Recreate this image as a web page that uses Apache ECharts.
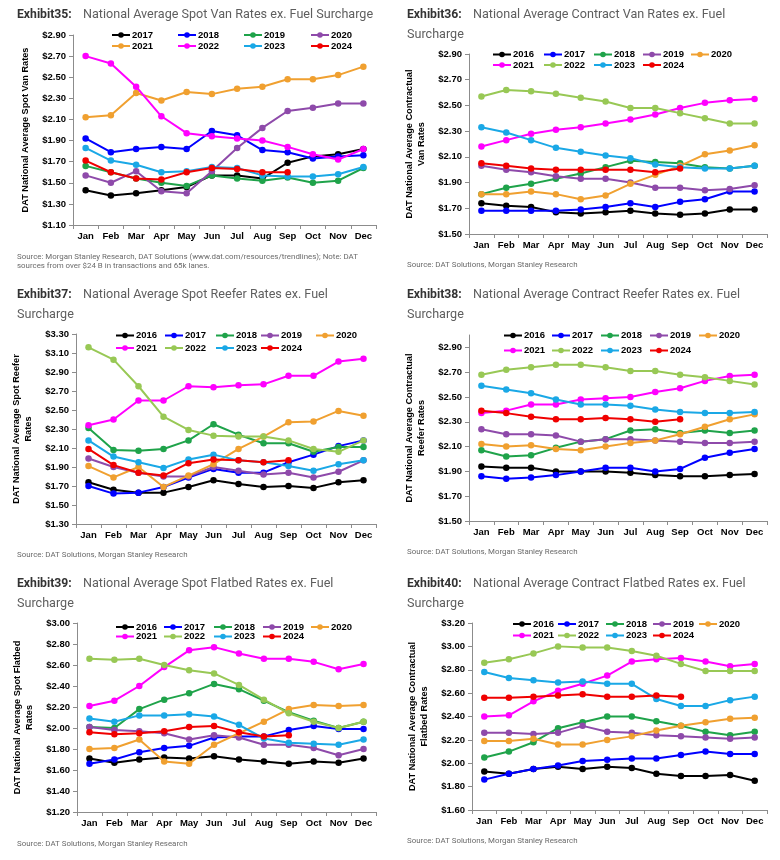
<!DOCTYPE html>
<html><head><meta charset="utf-8">
<script src="https://cdn.jsdelivr.net/npm/echarts@6/dist/echarts.min.js"></script>
<style>
body{margin:0;background:#fff;width:780px;height:860px;position:relative;overflow:hidden}
.p{position:absolute;width:390px;height:285px}
</style></head><body>
<div id="c1" class="p" style="left:0;top:0"></div>
<div id="c2" class="p" style="left:390px;top:0"></div>
<div id="c3" class="p" style="left:0;top:285px"></div>
<div id="c4" class="p" style="left:390px;top:285px"></div>
<div id="c5" class="p" style="left:0;top:575px"></div>
<div id="c6" class="p" style="left:390px;top:575px"></div>
<script>
const months = ['Jan','Feb','Mar','Apr','May','Jun','Jul','Aug','Sep','Oct','Nov','Dec'];
const yearsA = ['2017','2018','2019','2020','2021','2022','2023','2024'];
const yearsB = ['2016','2017','2018','2019','2020','2021','2022','2023','2024'];

// Exhibit 35: Spot Van
const sv2017 = [1.43,1.38,1.40,1.43,1.46,1.57,1.57,1.54,1.69,1.75,1.77,1.82];
const sv2018 = [1.92,1.79,1.82,1.84,1.82,1.99,1.95,1.81,1.79,1.73,1.75,1.76];
const sv2019 = [1.66,1.60,1.54,1.50,1.47,1.57,1.54,1.52,1.55,1.50,1.52,1.64];
const sv2020 = [1.57,1.50,1.61,1.42,1.40,1.61,1.83,2.02,2.18,2.21,2.25,2.25];
const sv2021 = [2.12,2.14,2.35,2.28,2.36,2.34,2.39,2.41,2.48,2.48,2.52,2.60];
const sv2022 = [2.70,2.63,2.41,2.13,1.97,1.94,1.92,1.90,1.84,1.77,1.72,1.82];
const sv2023 = [1.83,1.71,1.67,1.60,1.61,1.65,1.64,1.57,1.56,1.56,1.58,1.65];
const sv2024 = [1.71,1.60,1.54,1.53,1.60,1.64,1.63,1.60,1.60];

// Exhibit 36: Contract Van
const cv2016 = [1.74,1.72,1.71,1.67,1.66,1.67,1.68,1.66,1.65,1.66,1.69,1.69];
const cv2017 = [1.68,1.68,1.68,1.68,1.69,1.71,1.74,1.71,1.75,1.77,1.83,1.83];
const cv2018 = [1.81,1.86,1.89,1.93,1.97,2.02,2.07,2.06,2.05,2.02,2.01,2.03];
const cv2019 = [2.03,2.00,1.98,1.95,1.93,1.93,1.90,1.86,1.86,1.84,1.85,1.88];
const cv2020 = [1.81,1.81,1.83,1.81,1.77,1.80,1.89,1.96,2.03,2.12,2.15,2.19];
const cv2021 = [2.18,2.23,2.28,2.31,2.33,2.36,2.39,2.43,2.48,2.52,2.54,2.55];
const cv2022 = [2.57,2.62,2.61,2.59,2.56,2.53,2.48,2.48,2.44,2.40,2.36,2.36];
const cv2023 = [2.33,2.29,2.23,2.17,2.14,2.11,2.09,2.04,2.02,2.01,2.01,2.03];
const cv2024 = [2.05,2.03,2.01,2.00,2.00,2.00,2.00,1.98,2.01];

// Exhibit 37: Spot Reefer
const sr2016 = [1.74,1.66,1.63,1.63,1.69,1.76,1.72,1.69,1.70,1.68,1.74,1.76];
const sr2017 = [1.70,1.62,1.63,1.69,1.79,1.88,1.84,1.84,1.95,2.03,2.12,2.18];
const sr2018 = [2.31,2.08,2.07,2.09,2.18,2.35,2.24,2.15,2.15,2.06,2.11,2.11];
const sr2019 = [1.99,1.90,1.84,1.80,1.80,1.90,1.86,1.82,1.84,1.79,1.85,1.97];
const sr2020 = [1.91,1.79,1.90,1.69,1.81,1.93,2.09,2.22,2.37,2.38,2.49,2.44];
const sr2021 = [2.34,2.40,2.60,2.60,2.75,2.74,2.76,2.77,2.86,2.86,3.01,3.04];
const sr2022 = [3.16,3.03,2.75,2.43,2.29,2.23,2.22,2.22,2.18,2.09,2.06,2.18];
const sr2023 = [2.18,2.01,1.95,1.89,1.98,2.03,1.97,1.95,1.91,1.86,1.93,1.97];
const sr2024 = [2.09,1.92,1.84,1.81,1.94,1.98,1.97,1.95,1.97];

// Exhibit 38: Contract Reefer
const cr2016 = [1.94,1.93,1.93,1.90,1.90,1.90,1.89,1.87,1.86,1.86,1.87,1.88];
const cr2017 = [1.86,1.84,1.85,1.87,1.90,1.93,1.93,1.90,1.92,2.01,2.05,2.08];
const cr2018 = [2.07,2.02,2.03,2.09,2.14,2.16,2.23,2.24,2.21,2.23,2.21,2.23];
const cr2019 = [2.24,2.20,2.20,2.19,2.14,2.16,2.16,2.15,2.14,2.13,2.13,2.14];
const cr2020 = [2.12,2.10,2.11,2.08,2.07,2.10,2.13,2.15,2.20,2.26,2.32,2.36];
const cr2021 = [2.37,2.39,2.44,2.44,2.48,2.49,2.50,2.54,2.57,2.63,2.67,2.68];
const cr2022 = [2.68,2.72,2.74,2.76,2.76,2.74,2.71,2.71,2.68,2.66,2.63,2.60];
const cr2023 = [2.59,2.56,2.53,2.48,2.44,2.44,2.43,2.40,2.38,2.37,2.37,2.38];
const cr2024 = [2.39,2.37,2.34,2.32,2.32,2.33,2.32,2.30,2.32];

// Exhibit 39: Spot Flatbed
const sf2016 = [1.71,1.67,1.70,1.72,1.71,1.73,1.70,1.68,1.66,1.68,1.67,1.71];
const sf2017 = [1.66,1.70,1.77,1.81,1.83,1.91,1.92,1.92,1.98,2.02,1.99,1.99];
const sf2018 = [2.01,2.00,2.18,2.27,2.33,2.42,2.37,2.26,2.15,2.07,2.00,2.06];
const sf2019 = [2.01,1.98,1.97,1.95,1.89,1.93,1.91,1.84,1.84,1.81,1.74,1.80];
const sf2020 = [1.80,1.81,1.89,1.68,1.66,1.84,1.95,2.06,2.18,2.22,2.21,2.22];
const sf2021 = [2.21,2.26,2.40,2.58,2.74,2.77,2.71,2.66,2.66,2.63,2.56,2.61];
const sf2022 = [2.66,2.65,2.66,2.60,2.55,2.52,2.41,2.27,2.14,2.06,2.00,2.06];
const sf2023 = [2.09,2.06,2.12,2.12,2.13,2.11,2.03,1.90,1.86,1.85,1.84,1.89];
const sf2024 = [1.96,1.94,1.95,1.97,2.01,2.02,1.96,1.92,1.93];

// Exhibit 40: Contract Flatbed
const cf2016 = [1.93,1.91,1.95,1.97,1.95,1.97,1.96,1.91,1.89,1.89,1.90,1.85];
const cf2017 = [1.86,1.91,1.95,1.98,2.02,2.03,2.04,2.04,2.07,2.10,2.08,2.08];
const cf2018 = [2.05,2.10,2.18,2.30,2.35,2.40,2.40,2.36,2.32,2.27,2.24,2.27];
const cf2019 = [2.26,2.26,2.25,2.26,2.32,2.27,2.26,2.24,2.23,2.22,2.21,2.22];
const cf2020 = [2.19,2.19,2.21,2.16,2.16,2.20,2.23,2.28,2.32,2.35,2.38,2.39];
const cf2021 = [2.40,2.41,2.53,2.62,2.68,2.75,2.87,2.89,2.90,2.87,2.83,2.85];
const cf2022 = [2.86,2.89,2.94,3.00,2.99,2.99,2.96,2.92,2.85,2.79,2.79,2.79];
const cf2023 = [2.78,2.73,2.71,2.69,2.70,2.68,2.68,2.55,2.49,2.49,2.54,2.57];
const cf2024 = [2.56,2.56,2.57,2.58,2.59,2.57,2.57,2.58,2.57];

const colorsA = ['#000000','#0000ff','#1fa34a','#8e4aaa','#f0a030','#ff00ff','#1aa8e6','#f00000'];
const colorsB = ['#000000','#0000ff','#1fa34a','#8e4aaa','#f0a030','#ff00ff','#98c855','#1aa8e6','#f00000'];

const FONT = "'Liberation Sans', Arial, sans-serif";
const SRC_STD = ['Source: DAT Solutions, Morgan Stanley Research'];

const panels = [
  {id:'c1', ex:'Exhibit35:', t1:'National Average Spot Van Rates ex. Fuel Surcharge', t2:null, ty:15,
   yName:'DAT National Average Spot Van Rates', min:1.1, max:2.9, hideMax:false,
   grid:{left:73, right:14, top:35, height:190}, nameGap:42,
   years:yearsA, colors:colorsA, data:[sv2017,sv2018,sv2019,sv2020,sv2021,sv2022,sv2023,sv2024],
   legX:[111,177,243,310], legY:[36,47],
   src:['Source: Morgan Stanley Research, DAT Solutions (www.dat.com/resources/trendlines); Note: DAT','sources from over $24 B in transactions and 65k lanes.'], srcY:257},
  {id:'c2', ex:'Exhibit36:', t1:'National Average Contract Van Rates ex. Fuel', t2:'Surcharge', ty:15,
   yName:'DAT National Average Contractual\nVan Rates', min:1.5, max:2.9, hideMax:false,
   grid:{left:79, right:13, top:54, height:180}, nameGap:36,
   years:yearsB, colors:colorsB, data:[cv2016,cv2017,cv2018,cv2019,cv2020,cv2021,cv2022,cv2023,cv2024],
   legX:[102,153,203,252,300], legY:[55.5,66],
   src:SRC_STD, srcY:265.5},
  {id:'c3', ex:'Exhibit37:', t1:'National Average Spot Reefer Rates ex. Fuel', t2:'Surcharge', ty:10,
   yName:'DAT National Average Spot Reefer\nRates', min:1.3, max:3.3, hideMax:false,
   grid:{left:76, right:14, top:49, height:190}, nameGap:33,
   years:yearsB, colors:colorsB, data:[sr2016,sr2017,sr2018,sr2019,sr2020,sr2021,sr2022,sr2023,sr2024],
   legX:[115,164,215,260,315], legY:[51.5,64],
   src:SRC_STD, srcY:270},
  {id:'c4', ex:'Exhibit38:', t1:'National Average Contract Reefer Rates ex. Fuel', t2:'Surcharge', ty:10,
   yName:'DAT National Average Contractual\nReefer Rates', min:1.5, max:3.0, hideMax:true,
   grid:{left:79, right:13, top:50, height:186}, nameGap:36,
   years:yearsB, colors:colorsB, data:[cr2016,cr2017,cr2018,cr2019,cr2020,cr2021,cr2022,cr2023,cr2024],
   legX:[113,161,210,259,308], legY:[51.5,66.5],
   src:SRC_STD, srcY:267},
  {id:'c5', ex:'Exhibit39:', t1:'National Average Spot Flatbed Rates ex. Fuel', t2:'Surcharge', ty:8.5,
   yName:'DAT National Average Spot Flatbed\nRates', min:1.2, max:3.0, hideMax:false,
   grid:{left:77, right:14, top:48, height:189}, nameGap:34,
   years:yearsB, colors:colorsB, data:[sf2016,sf2017,sf2018,sf2019,sf2020,sf2021,sf2022,sf2023,sf2024],
   legX:[115,163,213,262,310], legY:[53,62.5],
   src:SRC_STD, srcY:269},
  {id:'c6', ex:'Exhibit40:', t1:'National Average Contract Flatbed Rates ex. Fuel', t2:'Surcharge', ty:8.5,
   yName:'DAT National Average Contractual\nFlatbed Rates', min:1.6, max:3.2, hideMax:false,
   grid:{left:82, right:13, top:48, height:187}, nameGap:39,
   years:yearsB, colors:colorsB, data:[cf2016,cf2017,cf2018,cf2019,cf2020,cf2021,cf2022,cf2023,cf2024],
   legX:[122,167,215,262,308], legY:[50,61.5],
   src:SRC_STD, srcY:266.5}
];

panels.forEach(p => {
  const chart = echarts.init(document.getElementById(p.id), null, {renderer:'canvas'});
  const ncol = p.legX.length;
  const legends = p.years.map((y, i) => ({
    data:[y], left:p.legX[i % ncol], top:p.legY[Math.floor(i / ncol)] - 6,
    padding:0, itemWidth:18, itemHeight:7, itemGap:0,
    textStyle:{fontFamily:FONT, fontWeight:'bold', fontSize:9.5, color:'#000', padding:[0,0,0,-3]},
    selectedMode:false
  }));
  const series = p.years.map((y, i) => ({
    name:y, type:'line', data:p.data[i], symbol:'circle', symbolSize:6.5,
    lineStyle:{width:2, color:p.colors[i]}, itemStyle:{color:p.colors[i]},
    emphasis:{disabled:true}, animation:false, z:2+i
  }));
  const graphics = [
    {type:'text', x:17, y:p.ty, style:{text:p.ex, font:"bold 12.2px Roboto, 'Liberation Sans', sans-serif", fill:'#333', verticalAlign:'middle'}},
    {type:'text', x:83, y:p.ty, style:{text:p.t1, font:"12.6px Roboto, 'Liberation Sans', sans-serif", fill:'#5e5e5e', verticalAlign:'middle'}}
  ];
  if (p.t2) graphics.push({type:'text', x:17, y:p.ty + 20, style:{text:p.t2, font:"12.6px Roboto, 'Liberation Sans', sans-serif", fill:'#5e5e5e', verticalAlign:'middle'}});
  p.src.forEach((s, k) => graphics.push({type:'text', x:17, y:p.srcY + k * 9.5, style:{text:s, font:"7.9px Roboto, 'Liberation Sans', sans-serif", fill:'#6a6a6a', verticalAlign:'middle'}}));

  chart.setOption({
    animation:false,
    grid:p.grid,
    legend:legends,
    graphic:graphics,
    xAxis:{type:'category', data:months, boundaryGap:true,
      axisLine:{lineStyle:{color:'#8c8c8c', width:1}},
      axisTick:{show:true, length:4, interval:0, lineStyle:{color:'#8c8c8c'}},
      axisLabel:{fontFamily:FONT, fontWeight:'bold', fontSize:9.5, color:'#000', margin:6, interval:0},
      splitLine:{show:false}},
    yAxis:{type:'value', min:p.min, max:p.max, interval:0.2,
      name:p.yName, nameLocation:'middle', nameGap:p.nameGap,
      nameTextStyle:{fontFamily:FONT, fontWeight:'bold', fontSize:9.2, color:'#000', lineHeight:12},
      axisLine:{show:true, lineStyle:{color:'#8c8c8c', width:1}},
      axisTick:{show:true, length:4, lineStyle:{color:'#8c8c8c'}},
      splitLine:{show:false},
      axisLabel:{fontFamily:FONT, fontWeight:'bold', fontSize:9.5, color:'#000', margin:7,
        showMaxLabel:!p.hideMax,
        formatter:v => '$' + v.toFixed(2)}},
    series:series
  });
});
</script>
</body></html>
